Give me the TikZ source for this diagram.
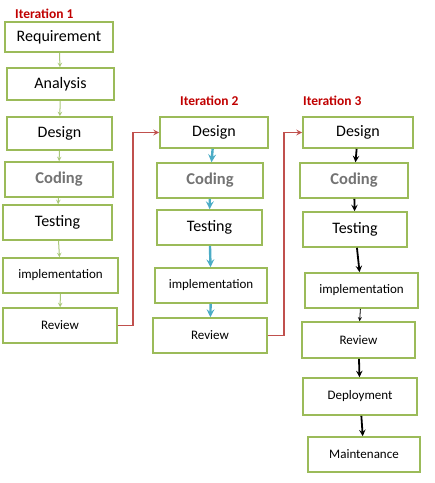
\documentclass[tikz,border=0pt]{standalone}
\usepackage{fontspec}
\setmainfont{Carlito}
\usepackage{xcolor}
\usepackage{tikz}

\definecolor{boxgreen}{HTML}{9BBB59}
\definecolor{paleline}{HTML}{A9C77A}
\definecolor{tealline}{HTML}{4BACC6}
\definecolor{loopred}{HTML}{C0504D}
\definecolor{headred}{HTML}{C00000}

\begin{document}
\begin{tikzpicture}[x=1pt,y=-1pt]
    \tikzstyle{stage} = [rectangle, draw=boxgreen, line width=1.6pt, fill=white, text centered, inner sep=0pt, font=\fontsize{16}{18}\selectfont]
    \tikzstyle{small} = [font=\fontsize{13}{15}\selectfont]
    \tikzstyle{gray} = [font=\fontsize{16.5}{18}\selectfont\bfseries, text=black!55]
    \tikzstyle{head} = [anchor=west, text=headred, font=\fontsize{13.5}{15}\selectfont\bfseries, inner sep=0pt]
    \tikzstyle{stepone} = [->, >=stealth, draw=paleline, line width=1pt]
    \tikzstyle{steptwo} = [->, >=stealth, draw=tealline, line width=2.4pt]
    \tikzstyle{stepthree} = [->, >=stealth, draw=black, line width=1.8pt]
    \tikzstyle{loop} = [->, >=stealth, draw=loopred, line width=1.6pt]
    \useasboundingbox (0,0) rectangle (435,483);
    % iteration 1
    \node [head] (H1) at (15,14) {Iteration 1};
    \node [stage, minimum width=108pt, minimum height=30pt] (req) at (59,37) {Requirement};
    \node [stage, minimum width=107pt, minimum height=32pt] (ana) at (60.5,84) {Analysis};
    \node [stage, minimum width=105pt, minimum height=33pt] (des1) at (59.5,133.5) {Design};
    \node [stage, gray, minimum width=108pt, minimum height=35pt] (cod1) at (59,179.5) {Coding};
    \node [stage, minimum width=109pt, minimum height=35pt] (tes1) at (57.5,222.5) {Testing};
    \node [stage, small, minimum width=115pt, minimum height=35pt] (imp1) at (60.5,275.5) {implementation};
    \node [stage, small, minimum width=114pt, minimum height=35pt] (rev1) at (60,325.5) {Review};
    \draw [stepone] (req) -- (ana);
    \draw [stepone] (ana) -- (des1);
    \draw [stepone] (des1) -- (cod1);
    \draw [stepone] (cod1) -- (tes1);
    \draw [stepone] (tes1) -- (imp1);
    \draw [stepone] (imp1) -- (rev1);
    % iteration 2
    \node [head] (H2) at (180,101) {Iteration 2};
    \node [stage, minimum width=108pt, minimum height=31pt] (des2) at (214,132.5) {Design};
    \node [stage, gray, minimum width=106pt, minimum height=35pt] (cod2) at (210,180.5) {Coding};
    \node [stage, minimum width=105pt, minimum height=35pt] (tes2) at (209.5,227.5) {Testing};
    \node [stage, small, minimum width=112pt, minimum height=35pt] (imp2) at (211,285.5) {implementation};
    \node [stage, small, minimum width=114pt, minimum height=35pt] (rev2) at (210,335.5) {Review};
    \draw [steptwo] (des2) -- (cod2);
    \draw [steptwo] (cod2) -- (tes2);
    \draw [steptwo] (tes2) -- (imp2);
    \draw [steptwo] (imp2) -- (rev2);
    % iteration 3
    \node [head] (H3) at (303,101) {Iteration 3};
    \node [stage, minimum width=110pt, minimum height=31pt] (des3) at (358,132.5) {Design};
    \node [stage, gray, minimum width=108pt, minimum height=35pt] (cod3) at (354,180.5) {Coding};
    \node [stage, minimum width=104pt, minimum height=35pt] (tes3) at (355,229.5) {Testing};
    \node [stage, small, minimum width=113pt, minimum height=35pt] (imp3) at (361.5,290.5) {implementation};
    \node [stage, small, minimum width=113pt, minimum height=36pt] (rev3) at (358.5,340) {Review};
    \node [stage, small, minimum width=114pt, minimum height=37pt] (dep3) at (360,396.5) {Deployment};
    \node [stage, small, minimum width=112pt, minimum height=35pt] (mai3) at (364,454.5) {Maintenance};
    \draw [stepthree] (des3) -- (cod3);
    \draw [stepthree] (cod3) -- (tes3);
    \draw [stepthree] (tes3) -- (imp3);
    \draw [stepthree, line width=0.8pt] (imp3) -- (rev3);
    \draw [stepthree] (rev3) -- (dep3);
    \draw [stepthree] (dep3) -- (mai3);
    % back to design
    \draw [loop] (rev1.east) -- ++(15,0) |- (des2.west);
    \draw [loop] (rev2.east) -- ++(16,0) |- (des3.west);
\end{tikzpicture}
\end{document}
